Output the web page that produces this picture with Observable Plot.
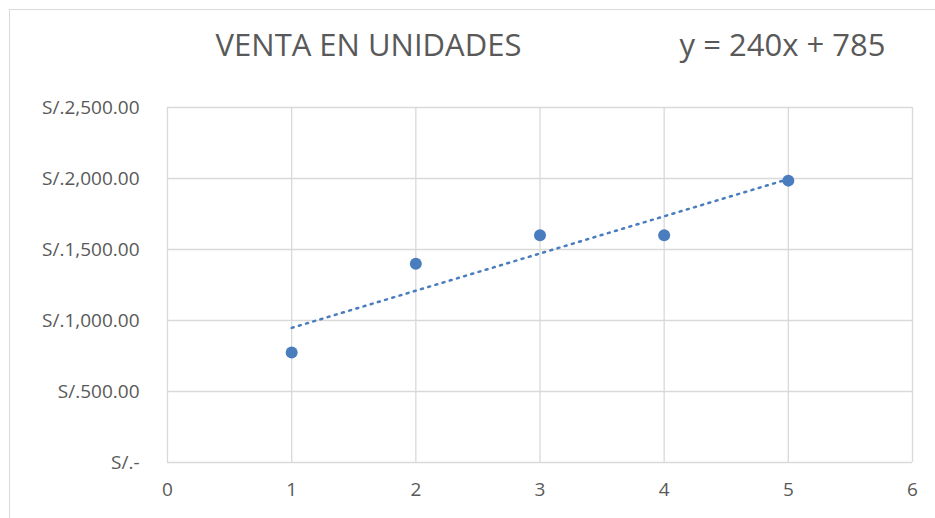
<!DOCTYPE html>
<html>
<head>
<meta charset="utf-8">
<script src="https://cdn.jsdelivr.net/npm/d3@7"></script>
<script src="https://cdn.jsdelivr.net/npm/@observablehq/plot@0.6"></script>
<style>
  html, body { margin: 0; padding: 0; background: #fff; }
  #wrap { position: relative; width: 935px; height: 518px; overflow: hidden; }
  #border { position: absolute; left: 9px; top: 9px; width: 960px; height: 560px; border: 1px solid #d9d9d9; box-sizing: border-box; pointer-events: none; }
</style>
</head>
<body>
<div id="wrap"><div id="border"></div></div>
<script>
const periodos = [1, 2, 3, 4, 5];
const ventas = [775, 1400, 1600, 1600, 1985];
const xTicks = [0, 1, 2, 3, 4, 5, 6];
const yTicks = [0, 500, 1000, 1500, 2000, 2500];
const titulo = "VENTA EN UNIDADES";
const ecuacion = "y = 240x + 785";

const data = periodos.map((p, i) => ({x: p, y: ventas[i]}));
const blue = "#4a7dbe";
const grid = "#d9d9d9";
const fmt = d => d === 0 ? "S/.-" : "S/." + d3.format(",.2f")(d);

const chart = Plot.plot({
  width: 935,
  height: 518,
  marginLeft: 167,
  marginRight: 23,
  marginTop: 107,
  marginBottom: 56,
  style: {fontFamily: "'Open Sans', sans-serif", fontSize: "19px", color: "#595959", background: "transparent"},
  x: {domain: [0, 6]},
  y: {domain: [0, 2500]},
  marks: [
    Plot.gridX(xTicks, {stroke: grid, strokeOpacity: 1, strokeWidth: 1.3}),
    Plot.gridY(yTicks, {stroke: grid, strokeOpacity: 1, strokeWidth: 1.3}),
    Plot.axisX(xTicks, {tickSize: 0, tickPadding: 20, label: null, tickFormat: d => String(d), fontSize: 19, fill: "#595959"}),
    Plot.axisY(yTicks, {tickSize: 0, tickPadding: 28, label: null, tickFormat: fmt, fontSize: 19, fill: "#595959"}),
    Plot.linearRegressionY(data, {x: "x", y: "y", ci: 0, stroke: blue, strokeWidth: 2.5, strokeDasharray: "2 5.5"}),
    Plot.dot(data, {x: "x", y: "y", r: 6, fill: blue, stroke: "none"}),
    Plot.text([titulo], {frameAnchor: "top", dx: -171.5, dy: -61, text: d => d, fontSize: 31, fill: "#595959", textAnchor: "middle", lineAnchor: "middle"}),
    Plot.text([ecuacion], {frameAnchor: "top", dx: 242.5, dy: -61, text: d => d, fontSize: 31, fill: "#595959", textAnchor: "middle", lineAnchor: "middle"})
  ]
});
document.getElementById("wrap").prepend(chart);
</script>
</body>
</html>
